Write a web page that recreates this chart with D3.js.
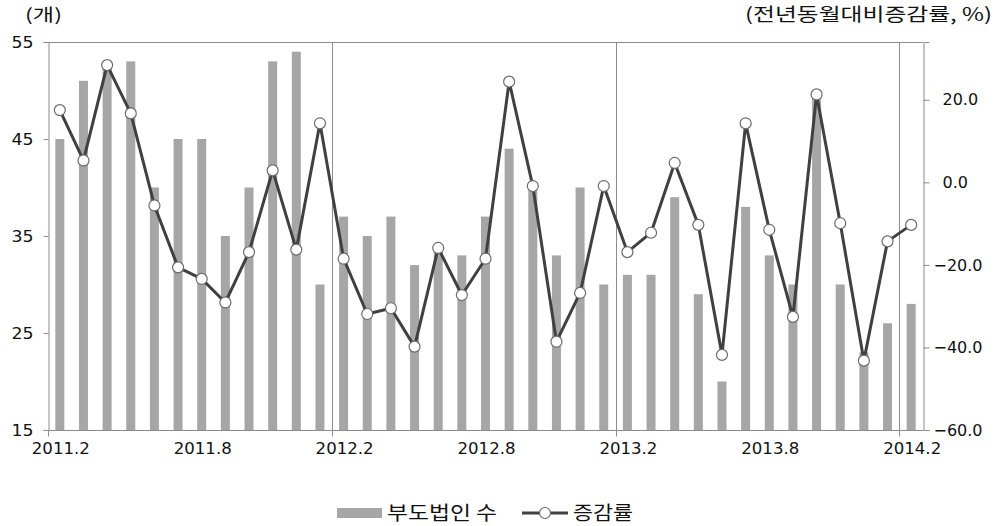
<!DOCTYPE html>
<html>
<head>
<meta charset="utf-8">
<script src="https://cdn.jsdelivr.net/npm/d3@7"></script>
<style>
  body { margin: 0; background: #fff; }
  svg text { font-family: "DejaVu Sans", sans-serif; fill: #111; }
  .kr { font-family: "Noto Sans CJK KR", sans-serif; }
</style>
</head>
<body>
<div id="chart"></div>
<script>
// monthly, 2011.2 .. 2014.2
const months = ['2011.2','2011.3','2011.4','2011.5','2011.6','2011.7','2011.8','2011.9','2011.10','2011.11','2011.12','2012.1',
  '2012.2','2012.3','2012.4','2012.5','2012.6','2012.7','2012.8','2012.9','2012.10','2012.11','2012.12','2013.1',
  '2013.2','2013.3','2013.4','2013.5','2013.6','2013.7','2013.8','2013.9','2013.10','2013.11','2013.12','2014.1','2014.2'];
const labelMonths = ['2011.2','2011.8','2012.2','2012.8','2013.2','2013.8','2014.2'];
const dividerMonths = ['2012.2','2013.2','2014.2'];
const tickMonths = ['2011.2','2012.2','2013.2','2014.2'];

// 부도법인 수 (개)
const counts = [45,51,53,53,40,45,45,35,40,53,54,30,
  37,35,37,32,34,33,37,44,40,33,40,30,
  31,31,39,29,20,38,33,30,50,30,23,26,28];
// 전년동월대비 증감률 (%)
const growth = [17.5,5.3,28.4,16.7,-5.6,-20.6,-23.4,-29.1,-16.9,2.9,-16.3,14.3,
  -18.5,-31.9,-30.5,-39.8,-15.9,-27.3,-18.5,24.4,-0.9,-38.6,-26.8,-0.9,
  -16.9,-12.2,4.7,-10.3,-41.8,14.3,-11.5,-32.6,21.3,-9.9,-43.2,-14.3,-10.3];

const leftTicks = [15,25,35,45,55];
const rightTicks = [-60,-40,-20,0,20];

const W = 997, H = 526;
const m = {left: 48, right: 74, top: 42, bottom: 96};

const svg = d3.select('#chart').append('svg')
  .attr('width', W).attr('height', H);

const x = d3.scaleBand().domain(months).range([m.left, W - m.right]).paddingInner(0).paddingOuter(0);
const yL = d3.scaleLinear().domain([15, 55]).range([H - m.bottom, m.top]);
const yR = d3.scaleLinear().domain([-60, 34]).range([H - m.bottom, m.top]);

const axisColor = '#8c8c8c';
const xc = d => x(d) + x.bandwidth() / 2;

// bars
svg.append('g').selectAll('rect').data(counts).join('rect')
  .attr('x', (d, i) => xc(months[i]) - 4.5)
  .attr('width', 9)
  .attr('y', d => yL(d))
  .attr('height', d => yL(15) - yL(d))
  .attr('fill', '#a6a6a6');

// frame: top line
svg.append('line')
  .attr('x1', m.left).attr('x2', W - m.right)
  .attr('y1', m.top + 0.5).attr('y2', m.top + 0.5)
  .attr('stroke', axisColor);

// year dividers
svg.append('g').selectAll('line').data(dividerMonths).join('line')
  .attr('x1', d => Math.round(x(d)) + 0.5).attr('x2', d => Math.round(x(d)) + 0.5)
  .attr('y1', m.top).attr('y2', H - m.bottom + 6)
  .attr('stroke', axisColor);

// left axis
const gl = svg.append('g')
  .attr('transform', `translate(${m.left + 0.5},0)`)
  .call(d3.axisLeft(yL).tickValues(leftTicks).tickSize(5).tickPadding(10));
gl.selectAll('path, line').attr('stroke', axisColor);
gl.selectAll('text').attr('font-size', 16).style('font-family', '"DejaVu Sans", sans-serif').attr('fill', '#111')
  .attr('textLength', 22).attr('lengthAdjust', 'spacingAndGlyphs');

// right axis
const gr = svg.append('g')
  .attr('transform', `translate(${W - m.right + 0.5},0)`)
  .call(d3.axisRight(yR).tickValues(rightTicks).tickSize(6).tickPadding(17).tickFormat(d3.format('.1f')));
gr.selectAll('path, line').attr('stroke', axisColor);
gr.selectAll('text').attr('font-size', 16).style('font-family', '"DejaVu Sans", sans-serif').attr('fill', '#111')
  .attr('x', d => d < 0 ? 10 : 19)
  .text(d => d3.format('.1f')(d).replace('-', '\u2212'));

// bottom axis
const gb = svg.append('g').attr('transform', `translate(0,${H - m.bottom + 0.5})`);
gb.append('line').attr('x1', m.left).attr('x2', W - m.right).attr('stroke', axisColor);
gb.selectAll('line.t').data(tickMonths).join('line').attr('class', 't')
  .attr('x1', d => Math.round(x(d)) + 0.5).attr('x2', d => Math.round(x(d)) + 0.5)
  .attr('y1', 0).attr('y2', 6).attr('stroke', axisColor);
gb.selectAll('text').data(labelMonths).join('text')
  .attr('x', d => xc(d) + 1).attr('y', 23)
  .attr('text-anchor', 'middle').attr('font-size', 16)
  .attr('textLength', 58).attr('lengthAdjust', 'spacingAndGlyphs')
  .text(d => d);

// growth line
const line = d3.line().x((d, i) => xc(months[i])).y(d => yR(d));
svg.append('path').datum(growth)
  .attr('d', line).attr('fill', 'none')
  .attr('stroke', '#404040').attr('stroke-width', 3).attr('stroke-linejoin', 'round');
svg.append('g').selectAll('circle').data(growth).join('circle')
  .attr('cx', (d, i) => xc(months[i])).attr('cy', d => yR(d))
  .attr('r', 5.5).attr('fill', '#fff').attr('stroke', '#6a6a6a').attr('stroke-width', 1.2);

// units
svg.append('text').attr('class', 'kr').attr('x', 25).attr('y', 21)
  .attr('font-size', 17).attr('textLength', 37).attr('lengthAdjust', 'spacingAndGlyphs').text('(개)');
svg.append('text').attr('class', 'kr').attr('x', 745).attr('y', 21)
  .attr('font-size', 18).attr('textLength', 247).attr('lengthAdjust', 'spacingAndGlyphs').text('(전년동월대비증감률, %)');

// legend
const lg = svg.append('g').attr('transform', 'translate(0,513)');
lg.append('rect').attr('x', 337).attr('y', -5).attr('width', 45).attr('height', 10).attr('fill', '#a6a6a6');
lg.append('text').attr('class', 'kr').attr('x', 387).attr('y', 7).attr('font-size', 19)
  .attr('textLength', 110).attr('lengthAdjust', 'spacingAndGlyphs').text('부도법인 수');
lg.append('line').attr('x1', 522).attr('x2', 568).attr('stroke', '#404040').attr('stroke-width', 3);
lg.append('circle').attr('cx', 545).attr('cy', 0).attr('r', 5.5).attr('fill', '#fff').attr('stroke', '#6a6a6a').attr('stroke-width', 1.2);
lg.append('text').attr('class', 'kr').attr('x', 573).attr('y', 7).attr('font-size', 19)
  .attr('textLength', 60).attr('lengthAdjust', 'spacingAndGlyphs').text('증감률');
</script>
</body>
</html>
